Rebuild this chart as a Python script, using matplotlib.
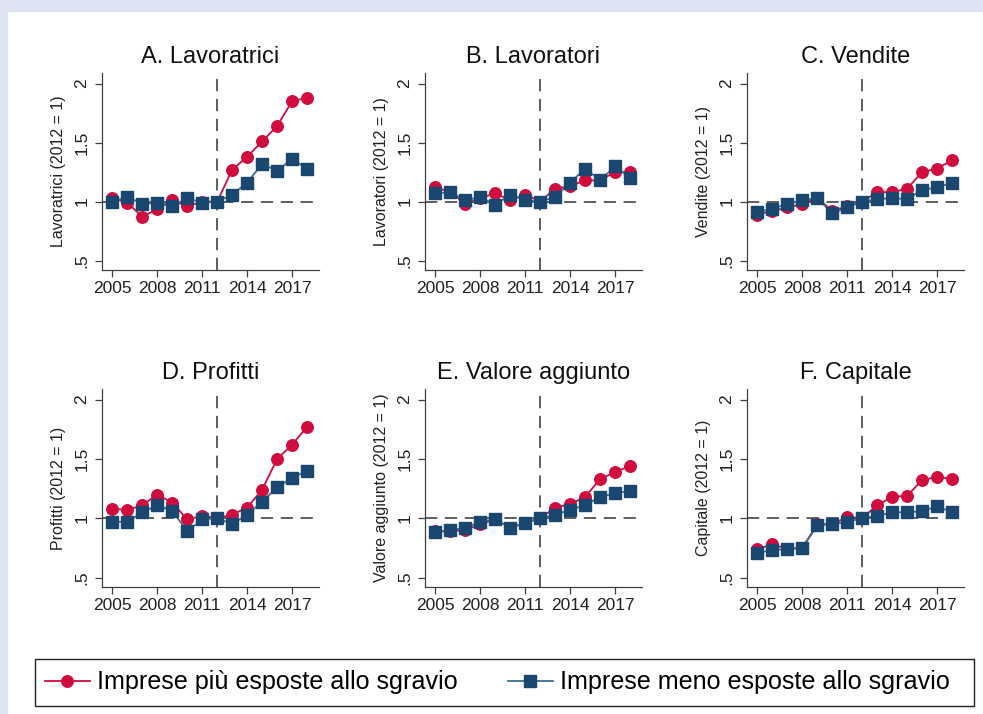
import matplotlib
matplotlib.use("Agg")
import matplotlib.pyplot as plt
from matplotlib.patches import Rectangle
from matplotlib.lines import Line2D

plt.rcParams["font.family"] = ["Liberation Sans", "DejaVu Sans"]

# ---- data ----
years = list(range(2005, 2019))

titles = ["A. Lavoratrici", "B. Lavoratori", "C. Vendite",
          "D. Profitti", "E. Valore aggiunto", "F. Capitale"]
ylabels = ["Lavoratrici", "Lavoratori", "Vendite",
           "Profitti", "Valore aggiunto", "Capitale"]

lavoratrici_piu = [1.03, 0.99, 0.87, 0.94, 1.01, 0.96, 1.00, 1.00, 1.27, 1.38, 1.51, 1.64, 1.85, 1.88]
lavoratrici_meno = [1.00, 1.04, 0.98, 0.99, 0.96, 1.03, 0.99, 1.00, 1.06, 1.16, 1.32, 1.26, 1.36, 1.28]

lavoratori_piu = [1.12, 1.08, 0.98, 1.03, 1.07, 1.01, 1.06, 1.00, 1.11, 1.13, 1.18, 1.18, 1.25, 1.25]
lavoratori_meno = [1.07, 1.08, 1.01, 1.04, 0.97, 1.06, 1.01, 1.00, 1.04, 1.16, 1.28, 1.18, 1.30, 1.20]

vendite_piu = [0.89, 0.92, 0.95, 0.98, 1.03, 0.92, 0.96, 1.00, 1.08, 1.08, 1.11, 1.25, 1.28, 1.35]
vendite_meno = [0.91, 0.94, 0.98, 1.01, 1.03, 0.90, 0.95, 1.00, 1.02, 1.03, 1.02, 1.10, 1.12, 1.16]

profitti_piu = [1.08, 1.07, 1.11, 1.20, 1.13, 0.99, 1.02, 1.00, 1.03, 1.09, 1.24, 1.50, 1.62, 1.77]
profitti_meno = [0.97, 0.97, 1.05, 1.11, 1.06, 0.89, 0.99, 1.00, 0.95, 1.03, 1.14, 1.26, 1.34, 1.40]

valore_piu = [0.89, 0.89, 0.90, 0.95, 0.99, 0.92, 0.96, 1.00, 1.09, 1.12, 1.18, 1.33, 1.39, 1.44]
valore_meno = [0.88, 0.90, 0.92, 0.97, 0.99, 0.92, 0.96, 1.00, 1.03, 1.07, 1.11, 1.18, 1.21, 1.23]

capitale_piu = [0.74, 0.78, 0.74, 0.75, 0.95, 0.95, 1.01, 1.00, 1.11, 1.18, 1.19, 1.32, 1.35, 1.33]
capitale_meno = [0.71, 0.73, 0.74, 0.75, 0.94, 0.95, 0.97, 1.00, 1.02, 1.05, 1.05, 1.06, 1.10, 1.05]

series_piu = [lavoratrici_piu, lavoratori_piu, vendite_piu, profitti_piu, valore_piu, capitale_piu]
series_meno = [lavoratrici_meno, lavoratori_meno, vendite_meno, profitti_meno, valore_meno, capitale_meno]

label_piu = "Imprese più esposte allo sgravio"
label_meno = "Imprese meno esposte allo sgravio"

# ---- style ----
RED = "#d00c3f"
NAVY = "#1a476f"
NAVY_LINE = "#3f6e8f"
AXCOL = "#404040"
W, H = 983, 714
MS = 8.3

fig = plt.figure(figsize=(W / 100, H / 100), dpi=100)
fig.patch.set_facecolor("white")

# light blue frame on top / left
bg = "#dbe4f0"
fig.patches.append(Rectangle((0, 1 - 11 / H), 1, 11 / H, transform=fig.transFigure,
                             color=bg, zorder=0))
fig.patches.append(Rectangle((0, 0), 7 / W, 1, transform=fig.transFigure,
                             color=bg, zorder=0))

# axes boxes in pixels
lefts = [102, 425, 747]
row_tops = [73, 389]
row_bottoms = [270, 587]
ax_w = 217

for i in range(6):
    r, c = divmod(i, 3)
    left = lefts[c]
    top, bottom = row_tops[r], row_bottoms[r]
    ax = fig.add_axes([left / W, 1 - bottom / H, ax_w / W, (bottom - top) / H])

    ax.axhline(1, color="#333333", lw=1.1, dashes=(8, 5), zorder=1)
    ax.axvline(2012, color="#333333", lw=1.1, dashes=(8, 5), zorder=1)

    ax.plot(years, series_piu[i], color=RED, lw=1.3, marker="o", ms=MS,
            mfc=RED, mec=RED, zorder=3)
    ax.plot(years, series_meno[i], color=NAVY_LINE, lw=1.3, marker="s", ms=MS,
            mfc=NAVY, mec=NAVY, zorder=4)

    ax.set_xlim(2004.3, 2018.8)
    ax.set_ylim(0.42, 2.09)
    ax.set_xticks([2005, 2008, 2011, 2014, 2017])
    ax.set_yticks([0.5, 1, 1.5, 2])
    ax.set_yticklabels([".5", "1", "1.5", "2"])
    ax.tick_params(axis="both", labelsize=12.5, length=5, width=0.9,
                   color=AXCOL, labelcolor="#222222", pad=3)
    ax.tick_params(axis="y", labelrotation=90, pad=4)
    for lab in ax.get_yticklabels():
        lab.set_va("center")

    for s in ["top", "right"]:
        ax.spines[s].set_visible(False)
    for s in ["left", "bottom"]:
        ax.spines[s].set_color(AXCOL)
        ax.spines[s].set_linewidth(0.9)
    ax.set_facecolor("none")

    ax.set_title(titles[i], fontsize=17, color="#111111", pad=7)
    ax.set_ylabel(f"{ylabels[i]} (2012 = 1)", fontsize=11.5, color="#222222", labelpad=6)

# ---- legend ----
fig.patches.append(Rectangle((35 / W, 1 - 706 / H), (974 - 35) / W, 47 / H,
                             transform=fig.transFigure, fill=False,
                             edgecolor="#222222", lw=1.0, zorder=1))
handles = [
    Line2D([], [], color=RED, lw=1.3, marker="o", ms=MS, mfc=RED, mec=RED),
    Line2D([], [], color=NAVY_LINE, lw=1.3, marker="s", ms=MS, mfc=NAVY, mec=NAVY),
]
fig.legend(handles, [label_piu, label_meno], loc="center left",
           bbox_to_anchor=(45 / W, 1 - 682.5 / H), ncol=2, frameon=False,
           fontsize=18.1, handlelength=1.79, handletextpad=0.28,
           columnspacing=2.0, borderaxespad=0, borderpad=0)

fig.savefig("out.png", dpi=100, facecolor=fig.get_facecolor())
